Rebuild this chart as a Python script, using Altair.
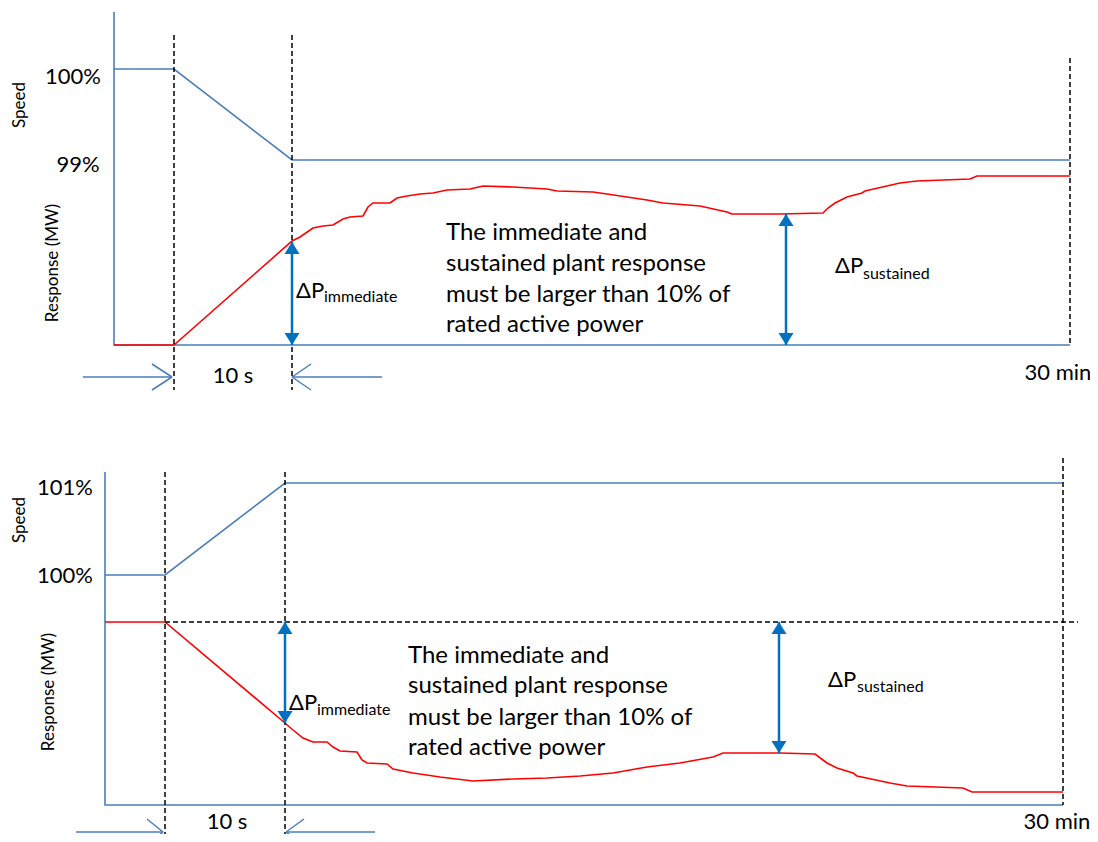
import altair as alt
import pandas as pd

# Drawing units: the diagram is laid out in the reference picture's own pixel grid
XDOM = [8, 1090]
YDOM = [834, 8]

BLUE = "#4A7EBB"
ARROW = "#0070C0"
RED = "#FF0000"
FONT = "Lato"

# ---------------- top panel (speed drops from 100% to 99%) ----------------
top_axis_x = [114, 114, 1070]
top_axis_y = [12, 345, 345]
top_speed_x = [114, 174, 292, 1070]
top_speed_y = [69, 69, 160, 160]
top_resp_x = [114, 174, 292, 300, 313, 323, 333, 343, 350, 363, 368, 373, 390, 397,
              407, 420, 433, 447, 470, 483, 513, 547, 557, 593, 607, 647, 663, 700,
              727, 732, 780, 823, 828, 835, 843, 847, 862, 865, 900, 917, 970, 977, 1070]
top_resp_y = [345, 345, 241, 237, 228, 226, 225, 219, 217, 216, 207, 203, 203, 198,
              196, 194, 193, 190, 189, 186, 187, 189, 191, 192, 194, 200, 203, 206,
              212, 214, 214, 213, 208, 203, 199, 197, 193, 191, 183, 181, 179, 176, 176]

# ---------------- bottom panel (speed rises from 100% to 101%) ----------------
bot_axis_x = [105, 105, 1063]
bot_axis_y = [472, 805, 805]
bot_speed_x = [105, 165, 285, 1063]
bot_speed_y = [575, 575, 483, 483]
bot_resp_x = [105, 165, 285, 293, 303, 313, 327, 333, 340, 357, 362, 367, 387, 393,
              413, 440, 473, 513, 547, 580, 613, 647, 680, 713, 723, 780, 815, 827,
              837, 853, 857, 890, 907, 963, 972, 1063]
bot_resp_y = [622, 622, 723, 730, 738, 742, 742, 747, 751, 752, 760, 763, 764, 769,
              773, 777, 781, 779, 778, 776, 773, 767, 763, 757, 753, 753, 754, 763,
              768, 773, 776, 783, 786, 788, 792, 792]

# dashed black guides: x, y, x2, y2
dash_x = [174, 292, 1070, 165, 285, 1063, 165]
dash_y = [35, 35, 58, 472, 472, 458, 622]
dash_x2 = [174, 292, 1070, 165, 285, 1063, 1078]
dash_y2 = [390, 390, 345, 842, 842, 805, 622]

# time-span arrows (thin blue shafts with open chevrons)
span_x = [83, 152, 152, 292, 292, 292, 76, 147, 147, 286, 286, 286]
span_y = [377, 364, 390, 377, 377, 377, 832, 819, 845, 832, 832, 832]
span_x2 = [172, 172, 172, 311, 311, 382, 163, 163, 163, 304, 304, 375]
span_y2 = [377, 377, 377, 364, 390, 377, 832, 832, 832, 819, 845, 832]

# Delta-P double arrows: x, upper tip, lower tip
dp_x = [292, 786, 285, 779]
dp_top = [242, 214, 622, 622]
dp_bot = [345, 345, 723, 753]

# texts
tick_txt = ["100%", "99%", "101%", "100%", "10 s", "30 min", "10 s", "30 min"]
tick_x = [73, 78, 65, 65, 233, 1058, 227, 1057]
tick_y = [84, 172, 495, 583, 383, 380, 829, 829]

rot_txt = ["Speed", "Response (MW)", "Speed", "Response (MW)"]
rot_x = [25, 58, 25, 54]
rot_y = [105, 263, 520, 692]

note_lines = ["The immediate and", "sustained plant response",
              "must be larger than 10% of", "rated active power"]
note_top_x = 446
note_top_y = [240, 271, 302, 332]
note_bot_x = 408
note_bot_y = [663, 693, 725, 755]

dp_main_x = [296, 835, 289, 828]
dp_main_y = [298, 273, 710, 687]
dp_sub_txt = ["immediate", "sustained", "immediate", "sustained"]
dp_sub_x = [324, 863, 317, 857]
dp_sub_y = [302, 279, 715, 692]

# ---------------- build tables ----------------
def path(name, xs, ys):
    return pd.DataFrame({"x": xs, "y": ys, "seg": name, "ord": list(range(len(xs)))})

blue_df = pd.concat([path("ta", top_axis_x, top_axis_y), path("ts", top_speed_x, top_speed_y),
                     path("ba", bot_axis_x, bot_axis_y), path("bs", bot_speed_x, bot_speed_y)])
red_df = pd.concat([path("tr", top_resp_x, top_resp_y), path("br", bot_resp_x, bot_resp_y)])
dash_df = pd.DataFrame({"x": dash_x, "y": dash_y, "x2": dash_x2, "y2": dash_y2})
span_df = pd.DataFrame({"x": span_x, "y": span_y, "x2": span_x2, "y2": span_y2})
dp_df = pd.DataFrame({"x": dp_x, "y": dp_top, "y2": dp_bot})
UP = "M0,-0.8L-1,0.8L1,0.8Z"
DOWN = "M0,0.8L-1,-0.8L1,-0.8Z"
head_df = pd.DataFrame({"x": dp_x + dp_x,
                        "y": [t + 6 for t in dp_top] + [b - 6 for b in dp_bot],
                        "shape": [UP] * 4 + [DOWN] * 4})
tick_df = pd.DataFrame({"x": tick_x, "y": tick_y, "t": tick_txt})
rot_df = pd.DataFrame({"x": rot_x, "y": rot_y, "t": rot_txt})
left_df = pd.DataFrame({
    "x": [note_top_x] * 4 + [note_bot_x] * 4 + dp_main_x + dp_sub_x,
    "y": note_top_y + note_bot_y + dp_main_y + dp_sub_y,
    "t": note_lines + note_lines + ["ΔP"] * 4 + dp_sub_txt,
    "fs": [24] * 8 + [22] * 4 + [16] * 4,
})

xs = alt.Scale(domain=XDOM, nice=False, zero=False)
ys = alt.Scale(domain=YDOM, nice=False, zero=False)


def X(f="x"):
    return alt.X(f"{f}:Q", scale=xs, axis=None)


def Y(f="y"):
    return alt.Y(f"{f}:Q", scale=ys, axis=None)


blue = alt.Chart(blue_df).mark_line(color=BLUE, strokeWidth=1.6).encode(
    x=X(), y=Y(), detail="seg:N", order="ord:Q")
red = alt.Chart(red_df).mark_line(color=RED, strokeWidth=1.6).encode(
    x=X(), y=Y(), detail="seg:N", order="ord:Q")
dashes = alt.Chart(dash_df).mark_rule(color="black", strokeDash=[5, 3], strokeWidth=1.5).encode(
    x=X(), y=Y(), x2="x2:Q", y2="y2:Q")
spans = alt.Chart(span_df).mark_rule(color=BLUE, strokeWidth=1.5).encode(
    x=X(), y=Y(), x2="x2:Q", y2="y2:Q")
dp = alt.Chart(dp_df).mark_rule(color=ARROW, strokeWidth=2.5).encode(
    x=X(), y=Y(), y2="y2:Q")
heads = alt.Chart(head_df).mark_point(filled=True, opacity=1, size=225, color=ARROW, strokeWidth=0).encode(
    x=X(), y=Y(), shape=alt.Shape("shape:N", scale=None))
ticks = alt.Chart(tick_df).mark_text(align="center", baseline="alphabetic", font=FONT,
                                     fontSize=22, color="black").encode(x=X(), y=Y(), text="t:N")
rots = alt.Chart(rot_df).mark_text(align="center", baseline="alphabetic", font=FONT,
                                   fontSize=17, angle=270, color="black").encode(x=X(), y=Y(), text="t:N")
lefts = alt.Chart(left_df).mark_text(align="left", baseline="alphabetic", font=FONT,
                                     color="black").encode(
    x=X(), y=Y(), text="t:N", size=alt.Size("fs:Q", scale=None))

chart = alt.layer(blue, red, dashes, spans, dp, heads, ticks, rots, lefts).properties(
    width=1082, height=826, padding=0, autosize=alt.AutoSizeParams(type="none"),
    background="white",
).configure_view(strokeWidth=0)

chart.save("out.html", embed_options={"renderer": "svg", "actions": False})
